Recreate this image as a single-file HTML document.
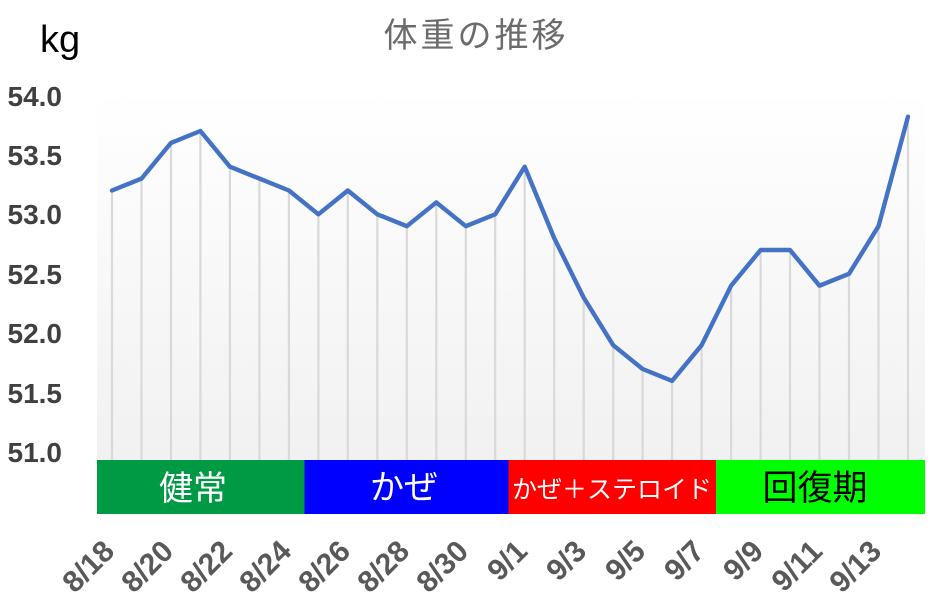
<!DOCTYPE html>
<html>
<head>
<meta charset="utf-8">
<style>
  html, body { margin: 0; padding: 0; background: #ffffff; }
  body { width: 937px; height: 608px; overflow: hidden; }
  svg { display: block; }
  .ylab { font-family: "Liberation Sans", Arial, sans-serif; font-weight: bold; font-size: 28px; fill: #404040; }
  .xlab { font-family: "Liberation Sans", Arial, sans-serif; font-weight: bold; font-size: 30px; fill: #595959; }
  .band { font-family: "Liberation Sans", "Noto Sans CJK JP", sans-serif; }
</style>
</head>
<body>
<svg width="937" height="608" viewBox="0 0 937 608" xmlns="http://www.w3.org/2000/svg">
  <defs>
    <linearGradient id="bg" x1="0" y1="0" x2="0" y2="1">
      <stop offset="0" stop-color="#ffffff"/>
      <stop offset="1" stop-color="#f1f1f1"/>
    </linearGradient>
  </defs>
  <rect x="0" y="0" width="937" height="608" fill="#ffffff"/>
  <!-- plot area -->
  <rect x="97" y="90" width="828" height="370" fill="url(#bg)"/>

  <!-- title -->
  <text x="476" y="47" text-anchor="middle" font-family="'Liberation Sans','Noto Sans CJK JP',sans-serif" font-size="34" letter-spacing="3" fill="#6b6b6b">体重の推移</text>
  <!-- unit -->
  <text x="40" y="52" font-family="'Liberation Sans',Arial,sans-serif" font-size="38" fill="#000000">kg</text>

  <!-- y labels -->
  <g class="ylab" text-anchor="end">
    <text x="62" y="106">54.0</text>
    <text x="62" y="165">53.5</text>
    <text x="62" y="224">53.0</text>
    <text x="62" y="284">52.5</text>
    <text x="62" y="343">52.0</text>
    <text x="62" y="403">51.5</text>
    <text x="62" y="462">51.0</text>
  </g>

  <!-- drop lines -->
  <g stroke="#d9d9d9" stroke-width="2.2">
    <line x1="112.0" y1="190.5" x2="112.0" y2="460"/>
    <line x1="141.5" y1="178.6" x2="141.5" y2="460"/>
    <line x1="171.0" y1="142.9" x2="171.0" y2="460"/>
    <line x1="200.4" y1="131.0" x2="200.4" y2="460"/>
    <line x1="229.9" y1="166.7" x2="229.9" y2="460"/>
    <line x1="259.4" y1="178.6" x2="259.4" y2="460"/>
    <line x1="288.9" y1="190.5" x2="288.9" y2="460"/>
    <line x1="318.4" y1="214.3" x2="318.4" y2="460"/>
    <line x1="347.8" y1="190.5" x2="347.8" y2="460"/>
    <line x1="377.3" y1="214.3" x2="377.3" y2="460"/>
    <line x1="406.8" y1="226.2" x2="406.8" y2="460"/>
    <line x1="436.3" y1="202.4" x2="436.3" y2="460"/>
    <line x1="465.8" y1="226.2" x2="465.8" y2="460"/>
    <line x1="495.2" y1="214.3" x2="495.2" y2="460"/>
    <line x1="524.7" y1="166.7" x2="524.7" y2="460"/>
    <line x1="554.2" y1="238.1" x2="554.2" y2="460"/>
    <line x1="583.7" y1="297.6" x2="583.7" y2="460"/>
    <line x1="613.2" y1="345.2" x2="613.2" y2="460"/>
    <line x1="642.6" y1="369.0" x2="642.6" y2="460"/>
    <line x1="672.1" y1="380.9" x2="672.1" y2="460"/>
    <line x1="701.6" y1="345.2" x2="701.6" y2="460"/>
    <line x1="731.1" y1="285.7" x2="731.1" y2="460"/>
    <line x1="760.6" y1="250.0" x2="760.6" y2="460"/>
    <line x1="790.0" y1="250.0" x2="790.0" y2="460"/>
    <line x1="819.5" y1="285.7" x2="819.5" y2="460"/>
    <line x1="849.0" y1="273.8" x2="849.0" y2="460"/>
    <line x1="878.5" y1="226.2" x2="878.5" y2="460"/>
    <line x1="908.0" y1="116.7" x2="908.0" y2="460"/>
  </g>

  <!-- data line -->
  <polyline fill="none" stroke="#4472c4" stroke-width="4.4" stroke-linejoin="round" stroke-linecap="round"
    points="112.0,190.5 141.5,178.6 171.0,142.9 200.4,131.0 229.9,166.7 259.4,178.6 288.9,190.5 318.4,214.3 347.8,190.5 377.3,214.3 406.8,226.2 436.3,202.4 465.8,226.2 495.2,214.3 524.7,166.7 554.2,238.1 583.7,297.6 613.2,345.2 642.6,369.0 672.1,380.9 701.6,345.2 731.1,285.7 760.6,250.0 790.0,250.0 819.5,285.7 849.0,273.8 878.5,226.2 908.0,116.7"/>

  <!-- phase bands -->
  <rect x="97" y="460" width="207.5" height="54" fill="#009944"/>
  <rect x="304.5" y="460" width="204" height="54" fill="#0000ff"/>
  <rect x="508.5" y="460" width="207.5" height="54" fill="#ff0000"/>
  <rect x="716" y="460" width="209" height="54" fill="#00ff00"/>

  <g class="band" text-anchor="middle">
    <text x="193" y="500" font-size="34" fill="#ffffff">健常</text>
    <text x="404" y="499" font-size="34" fill="#ffffff">かぜ</text>
    <text x="612" y="498" font-size="25" fill="#ffffff">かぜ＋ステロイド</text>
    <text x="815" y="500" font-size="35" fill="#000000">回復期</text>
  </g>

  <!-- x labels -->
  <g class="xlab" text-anchor="end">
    <text transform="translate(116,553) rotate(-45)">8/18</text>
    <text transform="translate(175,553) rotate(-45)">8/20</text>
    <text transform="translate(234,553) rotate(-45)">8/22</text>
    <text transform="translate(293,553) rotate(-45)">8/24</text>
    <text transform="translate(352,553) rotate(-45)">8/26</text>
    <text transform="translate(411,553) rotate(-45)">8/28</text>
    <text transform="translate(470,553) rotate(-45)">8/30</text>
    <text transform="translate(529,553) rotate(-45)">9/1</text>
    <text transform="translate(588,553) rotate(-45)">9/3</text>
    <text transform="translate(647,553) rotate(-45)">9/5</text>
    <text transform="translate(706,553) rotate(-45)">9/7</text>
    <text transform="translate(765,553) rotate(-45)">9/9</text>
    <text transform="translate(824,553) rotate(-45)">9/11</text>
    <text transform="translate(883,553) rotate(-45)">9/13</text>
  </g>
</svg>
</body>
</html>
